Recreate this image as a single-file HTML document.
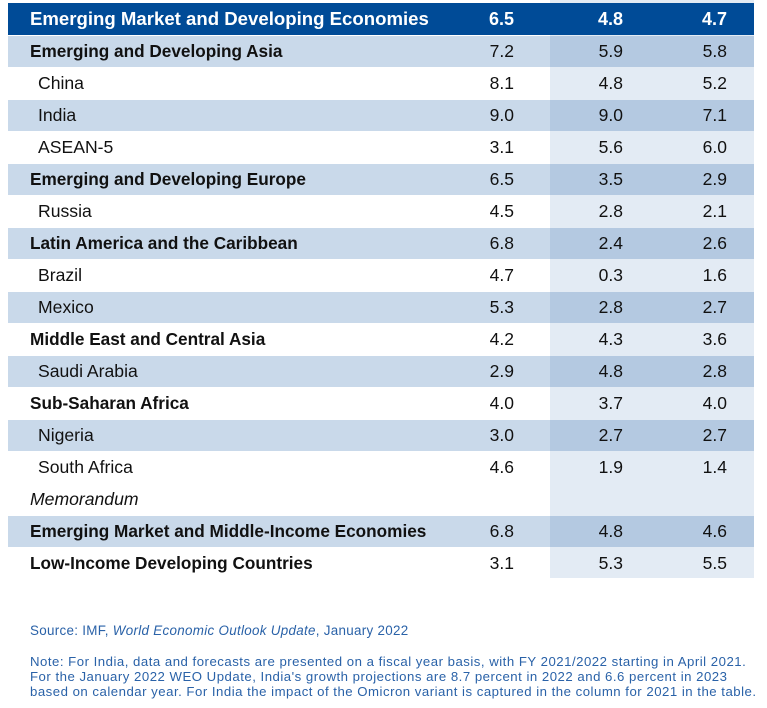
<!DOCTYPE html>
<html><head><meta charset="utf-8">
<style>
body{margin:0;background:#fff;width:767px;height:708px;overflow:hidden;position:relative;font-family:"Liberation Sans",sans-serif;}
#tbl{position:absolute;left:0;top:0;width:767px;height:600px;}
.note{position:absolute;left:30px;color:#2a62a8;white-space:nowrap;}
</style></head><body>
<svg id="tbl" width="767" height="600"></svg>
<div class="note" style="top:623px;font-size:13.4px;letter-spacing:0.3px">Source: IMF, <i>World Economic Outlook Update</i>, January 2022</div>
<div class="note" style="top:654px;line-height:15px;font-size:13.2px;letter-spacing:0.5px">Note: For India, data and forecasts are presented on a fiscal year basis, with FY 2021/2022 starting in April 2021.<br>For the January 2022 WEO Update, India's growth projections are 8.7 percent in 2022 and 6.6 percent in 2023<br>based on calendar year. For India the impact of the Omicron variant is captured in the column for 2021 in the table.</div>
<script>
const labels=["Emerging Market and Developing Economies","Emerging and Developing Asia","China","India","ASEAN-5","Emerging and Developing Europe","Russia","Latin America and the Caribbean","Brazil","Mexico","Middle East and Central Asia","Saudi Arabia","Sub-Saharan Africa","Nigeria","South Africa","Memorandum","Emerging Market and Middle-Income Economies","Low-Income Developing Countries"];
const indent=[0,0,1,1,1,0,1,0,1,1,0,1,0,1,1,0,0,0];
const shaded=[0,1,0,1,0,1,0,1,0,1,0,1,0,1,0,0,1,0];
const v2021=["6.5","7.2","8.1","9.0","3.1","6.5","4.5","6.8","4.7","5.3","4.2","2.9","4.0","3.0","4.6","","6.8","3.1"];
const v2022=["4.8","5.9","4.8","9.0","5.6","3.5","2.8","2.4","0.3","2.8","4.3","4.8","3.7","2.7","1.9","","4.8","5.3"];
const v2023=["4.7","5.8","5.2","7.1","6.0","2.9","2.1","2.6","1.6","2.7","3.6","2.8","4.0","2.7","1.4","","4.6","5.5"];
const NS="http://www.w3.org/2000/svg";
const svg=document.getElementById('tbl');
const top0=3,rowH=32,left=8,right=754,colX=550;
function mk(t,a){const e=document.createElementNS(NS,t);for(const k in a)e.setAttribute(k,a[k]);svg.appendChild(e);return e;}
const col=mk('rect',{x:colX,y:0,width:right-colX,height:top0+rowH*labels.length-1,fill:'#e3ebf4'});


labels.forEach((lab,i)=>{
  const y=top0+i*rowH;
  if(i===0){const r=mk('rect',{x:left,y:y,width:right-left,height:rowH,fill:'#004b97'});
    
    }
  else if(shaded[i]){
    const r=mk('rect',{x:left,y:y+1,width:right-left,height:rowH-1,fill:'#c9d9ea'});
    
    
    const r2=mk('rect',{x:colX,y:y+1,width:right-colX,height:rowH-1,fill:'#b4c9e1'});
    
    }
  const fill=i===0?'#fff':'#111';
  const bold=(i===0||!indent[i])&&i!==15;
  const fs=i===0?18.6:(bold?17.2:17.6);
  const t=mk('text',{x:indent[i]?38:30,y:y+22,'font-size':fs,'font-weight':bold?'bold':'normal','font-style':i===15?'italic':'normal',fill:fill});
  t.textContent=lab;
  
  
  [[v2021,514],[v2022,623],[v2023,727]].forEach(([arr,x])=>{
    if(!arr[i])return;
    const n=mk('text',{x:x,y:y+22,'font-size':i===0?18:17.5,'font-weight':i===0?'bold':'normal','text-anchor':'end',fill:fill});
    n.textContent=arr[i];
    
    
  });
});
</script>
</body></html>
